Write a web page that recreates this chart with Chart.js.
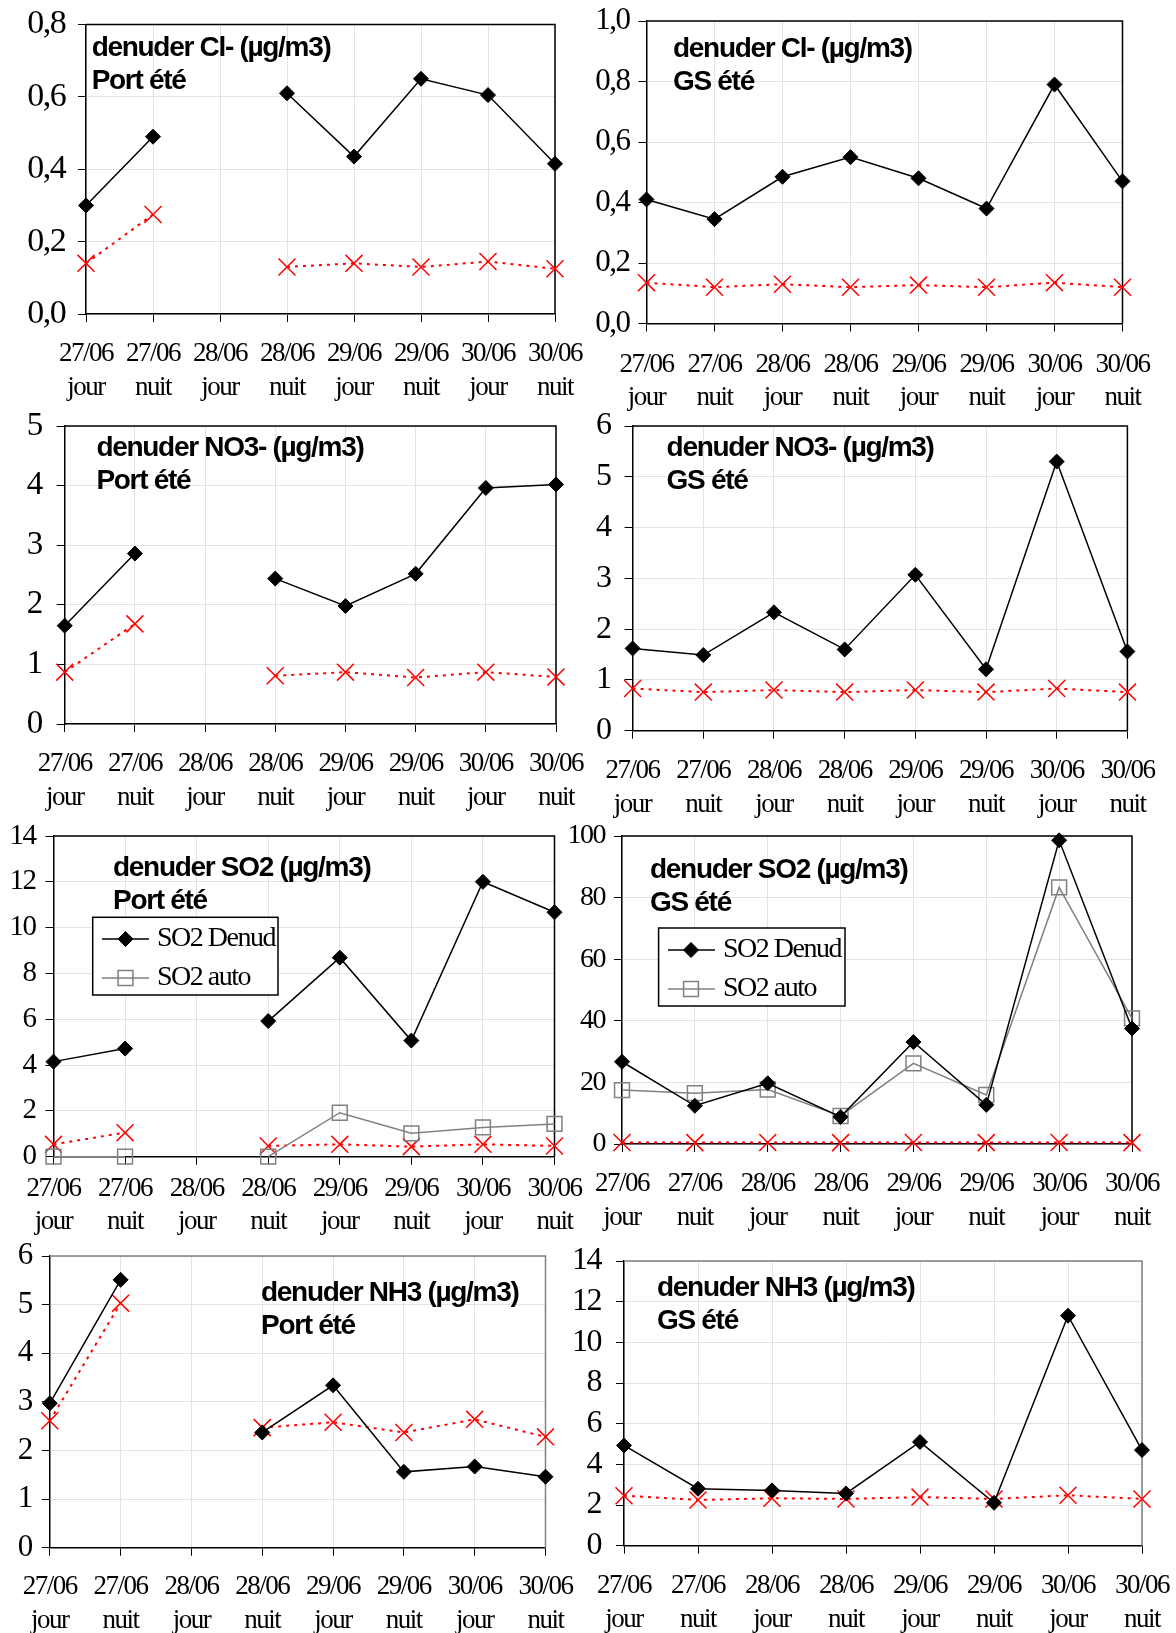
<!DOCTYPE html>
<html>
<head>
<meta charset="utf-8">
<script src="https://cdn.jsdelivr.net/npm/chart.js@4.4.1/dist/chart.umd.min.js"></script>
<style>
html,body{margin:0;padding:0;background:#fff}
body{position:relative;width:1176px;height:1633px;overflow:hidden}
canvas{position:absolute}
.ttl{position:absolute;font:bold 28px 'Liberation Sans',Arial,sans-serif;letter-spacing:-1.3px;line-height:33px;color:#000;white-space:nowrap}
</style>
</head>
<body>
<script>
// categories (two-line tick labels)
const categories = [['27/06','jour'],['27/06','nuit'],['28/06','jour'],['28/06','nuit'],['29/06','jour'],['29/06','nuit'],['30/06','jour'],['30/06','nuit']];

// Cl-
const clPortDenud = [0.30, 0.49, null, 0.61, 0.435, 0.65, 0.605, 0.415];
const clPortRed   = [0.14, 0.275, null, 0.13, 0.14, 0.13, 0.145, 0.125];
const clGsDenud   = [0.41, 0.345, 0.485, 0.55, 0.48, 0.38, 0.79, 0.47];
const clGsRed     = [0.135, 0.12, 0.13, 0.12, 0.127, 0.12, 0.135, 0.12];
// NO3-
const no3PortDenud = [1.65, 2.86, null, 2.44, 1.98, 2.52, 3.96, 4.02];
const no3PortRed   = [0.87, 1.68, null, 0.81, 0.87, 0.78, 0.87, 0.79];
const no3GsDenud   = [1.62, 1.49, 2.33, 1.60, 3.07, 1.21, 5.30, 1.56];
const no3GsRed     = [0.83, 0.76, 0.80, 0.76, 0.80, 0.76, 0.83, 0.76];
// SO2
const so2PortDenud = [4.15, 4.72, null, 5.92, 8.69, 5.07, 12.0, 10.67];
const so2PortAuto  = [0, 0, null, 0, 1.92, 1.02, 1.28, 1.43];
const so2PortRed   = [0.54, 1.05, null, 0.47, 0.54, 0.44, 0.54, 0.47];
const so2GsDenud   = [26.7, 12.4, 19.7, 8.8, 33.1, 12.7, 98.6, 37.5];
const so2GsAuto    = [17.5, 16.5, 17.7, 9.1, 26.2, 15.9, 83.3, 40.8];
const so2GsRed     = [0.5, 0.45, 0.5, 0.45, 0.5, 0.45, 0.5, 0.45];
// NH3
const nh3PortDenud = [2.97, 5.51, null, 2.37, 3.34, 1.56, 1.67, 1.46];
const nh3PortRed   = [2.61, 5.03, null, 2.47, 2.58, 2.37, 2.64, 2.28];
const nh3GsDenud   = [4.93, 2.80, 2.72, 2.57, 5.10, 2.11, 11.31, 4.70];
const nh3GsRed     = [2.46, 2.25, 2.33, 2.30, 2.39, 2.30, 2.48, 2.30];

const SERIF = "'Liberation Serif','Times New Roman',serif";
Chart.defaults.font.family = SERIF;

const denud = d => ({label:'SO2 Denud', data:d, borderColor:'#000', backgroundColor:'#000', borderWidth:1.5,
  pointStyle:'rectRot', pointRadius:7.5, pointBorderWidth:1, pointBackgroundColor:'#000', pointBorderColor:'#000', clip:false});
const auto = d => ({label:'SO2 auto', data:d, borderColor:'#808080', backgroundColor:'rgba(255,255,255,0)', borderWidth:1.5,
  pointStyle:'rect', pointRadius:10.5, pointBorderWidth:1.5, pointBackgroundColor:'rgba(255,255,255,0)', pointBorderColor:'#808080', clip:false});
const red = d => ({label:'', data:d, borderColor:'#ff0000', borderWidth:2, borderDash:[3,5],
  pointStyle:'crossRot', pointRadius:12, pointBorderWidth:1.5, pointBorderColor:'#ff0000', pointBackgroundColor:'#ff0000', clip:false});

const comma = v => v.toFixed(1).replace('.', ',');

const panels = [
  {col:0, box:{l:86, t:24.5, r:555, b:314}, max:0.8, step:0.2, fmt:comma, ypad:12.8, xpad:15.1, ysize:34,
   ds:[denud(clPortDenud), red(clPortRed)], title:[91.7, 46.7, 'denuder Cl- (µg/m3)', 'Port été']},
  {col:1, box:{l:646.5, t:21, r:1122.5, b:323.5}, max:1.0, step:0.2, fmt:comma, ypad:9, xpad:16.2, ysize:31,
   ds:[denud(clGsDenud), red(clGsRed)], title:[673, 47, 'denuder Cl- (µg/m3)', 'GS été']},
  {col:0, box:{l:64.7, t:426, r:556, b:724}, max:5, step:1, ypad:15, xpad:15.1, ysize:33,
   ds:[denud(no3PortDenud), red(no3PortRed)], title:[96.4, 446.7, 'denuder NO3- (µg/m3)', 'Port été']},
  {col:1, box:{l:632.6, t:426, r:1127.4, b:730.7}, max:6, step:1, ypad:14, xpad:15.1, ysize:32,
   ds:[denud(no3GsDenud), red(no3GsRed)], title:[666.6, 446.7, 'denuder NO3- (µg/m3)', 'GS été']},
  {col:0, box:{l:53.5, t:836, r:554.5, b:1156.7}, max:14, step:2, ypad:10, xpad:6.9, ysize:29,
   ds:[denud(so2PortDenud), auto(so2PortAuto), red(so2PortRed)], title:[113, 866.7, 'denuder SO2 (µg/m3)', 'Port été'],
   legend:{rect:[92.7, 917.3, 278, 995], rows:[[0, 939], [1, 978]], x1:102, x2:149, mx:125.5, tx:157}},
  {col:1, box:{l:622, t:836, r:1132, b:1144}, max:100, step:20, ypad:9, xpad:15.1, ysize:28,
   ds:[denud(so2GsDenud), auto(so2GsAuto), red(so2GsRed)], title:[650, 868, 'denuder SO2 (µg/m3)', 'GS été'],
   legend:{rect:[658.6, 928, 845, 1006], rows:[[0, 950], [1, 989]], x1:668, x2:715, mx:691, tx:723}},
  {col:0, box:{l:49.8, t:1256, r:545.5, b:1547.7}, max:6, step:1, ypad:10, xpad:14.4, ysize:31, frame:'#808080',
   ds:[denud(nh3PortDenud), red(nh3PortRed)], title:[261, 1291.7, 'denuder NH3 (µg/m3)', 'Port été']},
  {col:1, box:{l:624, t:1261, r:1142, b:1545.7}, max:14, step:2, ypad:15, xpad:15.1, ysize:32, frame:'#808080',
   ds:[denud(nh3GsDenud), red(nh3GsRed)], title:[657, 1286.7, 'denuder NH3 (µg/m3)', 'GS été']}
];

// top + right border of the plot area
const framePlugin = {
  id: 'frame',
  beforeDatasetsDraw(chart, args, o) {
    const a = chart.chartArea, ctx = chart.ctx;
    ctx.save();
    ctx.strokeStyle = o.color || '#000';
    ctx.lineWidth = 1.5;
    ctx.beginPath();
    ctx.moveTo(a.left, a.top); ctx.lineTo(a.right, a.top); ctx.lineTo(a.right, a.bottom);
    ctx.stroke();
    ctx.restore();
  }
};

// boxed legend inside the plot
const boxLegend = {
  id: 'boxLegend',
  afterDatasetsDraw(chart, args, o) {
    if (!o || !o.rect) return;
    const ctx = chart.ctx, ox = o.ox, oy = o.oy;
    const [x0, y0, x1, y1] = o.rect;
    ctx.save();
    ctx.fillStyle = '#fff';
    ctx.fillRect(x0 - ox, y0 - oy, x1 - x0, y1 - y0);
    ctx.strokeStyle = '#000';
    ctx.lineWidth = 1.5;
    ctx.strokeRect(x0 - ox, y0 - oy, x1 - x0, y1 - y0);
    o.rows.forEach(([i, y]) => {
      const ds = chart.data.datasets[i];
      ctx.strokeStyle = ds.borderColor;
      ctx.lineWidth = ds.borderWidth;
      ctx.beginPath();
      ctx.moveTo(o.x1 - ox, y - oy); ctx.lineTo(o.x2 - ox, y - oy);
      ctx.stroke();
      ctx.fillStyle = ds.pointBackgroundColor;
      ctx.strokeStyle = ds.pointBorderColor;
      ctx.lineWidth = ds.pointBorderWidth;
      Chart.helpers.drawPoint(ctx, {pointStyle: ds.pointStyle, radius: ds.pointRadius, rotation: 0, borderWidth: ds.pointBorderWidth}, o.mx - ox, y - oy);
      ctx.fillStyle = '#000';
      ctx.font = '28px ' + SERIF;
      ctx.textBaseline = 'middle';
      ctx.textAlign = 'left';
      ctx.fillText(ds.label, o.tx - ox, y - oy);
    });
    ctx.restore();
  }
};

const tightText = {
  id: 'tightText',
  beforeDraw(chart) { chart.ctx.letterSpacing = '-1.5px'; }
};

panels.forEach(p => {
  const cl = p.col === 0 ? 0 : 570;
  const cw = p.col === 0 ? 600 : 606;
  const ct = Math.floor(p.box.t - 30);
  const ch = Math.ceil(p.box.b - ct + 100);
  const cv = document.createElement('canvas');
  cv.width = cw; cv.height = ch;
  cv.style.left = cl + 'px'; cv.style.top = ct + 'px';
  cv.style.width = cw + 'px'; cv.style.height = ch + 'px';
  document.body.appendChild(cv);

  const t = document.createElement('div');
  t.className = 'ttl';
  t.style.left = p.title[0] + 'px';
  t.style.top = (p.title[1] - 16.5) + 'px';
  t.innerHTML = p.title[2] + '<br>' + p.title[3];
  document.body.appendChild(t);

  new Chart(cv, {
    type: 'line',
    data: {labels: categories, datasets: p.ds},
    options: {
      responsive: false,
      animation: false,
      devicePixelRatio: 1,
      spanGaps: false,
      layout: {padding: {top: p.box.t - ct, right: cl + cw - p.box.r, left: 0, bottom: 0}},
      plugins: {
        legend: {display: false},
        tooltip: {enabled: false},
        frame: {color: p.frame || '#000'},
        boxLegend: p.legend ? Object.assign({ox: cl, oy: ct}, p.legend) : false
      },
      scales: {
        x: {
          type: 'category', offset: false,
          grid: {color: '#e3e3e3', tickColor: '#000', tickLength: 8, offset: false, lineWidth: 1},
          border: {color: '#000', width: 1.5},
          ticks: {color: '#000', font: {size: 27, lineHeight: 1.25}, padding: p.xpad, maxRotation: 0, autoSkip: false},
          afterFit(s) { s.height = ch - (p.box.b - ct); s.paddingLeft = 0; s.paddingRight = 0; }
        },
        y: {
          min: 0, max: p.max,
          grid: {color: '#e3e3e3', tickColor: '#000', tickLength: 8, lineWidth: 1},
          border: {color: '#000', width: 1.5},
          ticks: {stepSize: p.step, autoSkip: false, color: '#000', font: {size: p.ysize}, padding: p.ypad, callback: p.fmt || (v => v)},
          afterFit(s) { s.width = p.box.l - cl; s.paddingTop = 0; s.paddingBottom = 0; }
        }
      }
    },
    plugins: [tightText, framePlugin, boxLegend]
  });
});
</script>
</body>
</html>
